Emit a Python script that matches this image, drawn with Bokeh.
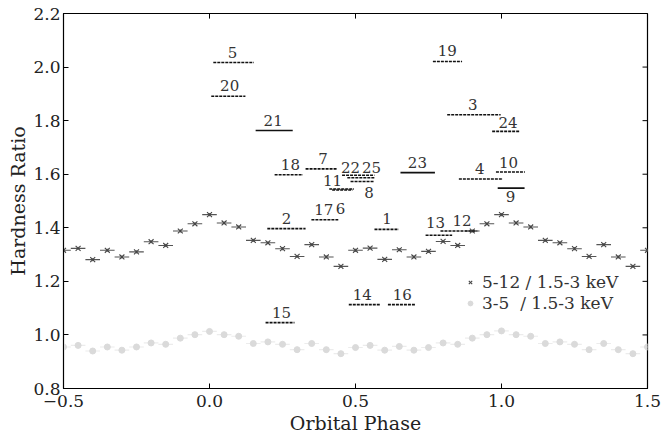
from bokeh.plotting import figure
from bokeh.models import Range1d, FixedTicker, Legend, LegendItem, ColumnDataSource
from bokeh.core.properties import value
from bokeh.embed import file_html
from bokeh.resources import INLINE

# ---------------- data ----------------
phase = [-0.50, -0.45, -0.40, -0.35, -0.30, -0.25, -0.20, -0.15, -0.10, -0.05,
         0.00, 0.05, 0.10, 0.15, 0.20, 0.25, 0.30, 0.35, 0.40, 0.45,
         0.50, 0.55, 0.60, 0.65, 0.70, 0.75, 0.80, 0.85, 0.90, 0.95,
         1.00, 1.05, 1.10, 1.15, 1.20, 1.25, 1.30, 1.35, 1.40, 1.45, 1.50]

hr_hard = [1.316, 1.323, 1.281, 1.316, 1.291, 1.310, 1.348, 1.334, 1.388, 1.415,
           1.449, 1.418, 1.403, 1.353, 1.344, 1.322, 1.293, 1.337, 1.291, 1.256,
           1.316, 1.324, 1.282, 1.318, 1.291, 1.312, 1.349, 1.334, 1.388, 1.415,
           1.449, 1.418, 1.403, 1.353, 1.344, 1.322, 1.293, 1.337, 1.291, 1.256,
           1.316]

hr_soft = [0.955, 0.961, 0.940, 0.955, 0.943, 0.955, 0.970, 0.965, 0.988, 1.001,
           1.013, 1.001, 0.995, 0.968, 0.974, 0.965, 0.945, 0.968, 0.945, 0.930,
           0.953, 0.961, 0.943, 0.957, 0.943, 0.953, 0.970, 0.965, 0.988, 1.001,
           1.015, 1.001, 0.995, 0.968, 0.974, 0.965, 0.945, 0.968, 0.945, 0.930,
           0.955]

bin_halfwidth = 0.025
hr_err = 0.006

seg_id = ["1", "2", "3", "4", "5", "6", "7", "8", "9", "10", "11", "12", "13",
          "14", "15", "16", "17", "18", "19", "20", "21", "22", "23", "24", "25"]
seg_start = [0.565, 0.198, 0.814, 0.854, 0.013, 0.420, 0.329, 0.483, 0.987, 0.981,
             0.410, 0.791, 0.740, 0.477, 0.192, 0.611, 0.349, 0.223, 0.765, 0.006,
             0.158, 0.454, 0.654, 0.968, 0.472]
seg_end = [0.648, 0.329, 0.997, 1.005, 0.152, 0.490, 0.436, 0.565, 1.079, 1.080,
           0.495, 0.917, 0.831, 0.586, 0.291, 0.705, 0.441, 0.320, 0.865, 0.123,
           0.285, 0.565, 0.772, 1.062, 0.565]
seg_ratio = [1.394, 1.397, 1.822, 1.582, 2.017, 1.541, 1.620, 1.573, 1.548, 1.608,
             1.545, 1.388, 1.372, 1.113, 1.046, 1.113, 1.430, 1.598, 2.021, 1.891,
             1.763, 1.596, 1.606, 1.760, 1.587]
seg_solid = ["9", "21", "23"]

label_phase = [0.608, 0.264, 0.902, 0.926, 0.079, 0.449, 0.389, 0.546, 1.031, 1.024,
               0.421, 0.865, 0.774, 0.523, 0.247, 0.660, 0.391, 0.277, 0.814, 0.069,
               0.218, 0.483, 0.712, 1.022, 0.555]
label_ratio = [1.434, 1.434, 1.860, 1.620, 2.054, 1.472, 1.658, 1.533, 1.515, 1.645,
               1.577, 1.428, 1.421, 1.150, 1.085, 1.150, 1.467, 1.637, 2.062, 1.931,
               1.801, 1.626, 1.645, 1.794, 1.626]

x_ticks = [-0.5, 0.0, 0.5, 1.0, 1.5]
x_tick_labels = ["\u22120.5", "0.0", "0.5", "1.0", "1.5"]
y_ticks = [0.8, 1.0, 1.2, 1.4, 1.6, 1.8, 2.0, 2.2]
y_tick_labels = ["0.8", "1.0", "1.2", "1.4", "1.6", "1.8", "2.0", "2.2"]

legend_hard = "5-12 / 1.5-3 keV"
legend_soft = "3-5  / 1.5-3 keV"

FONT = "DejaVu Serif"
X_MIN, X_MAX, Y_MIN, Y_MAX = -0.5, 1.5, 0.8, 2.2
TICK_DX = 0.017   # ~5 px inward tick length on the right edge
TICK_DY = 0.019   # ~5 px inward tick length on the top edge

# ---------------- figure ----------------
p = figure(width=663, height=439, x_range=Range1d(X_MIN, X_MAX), y_range=Range1d(Y_MIN, Y_MAX),
           output_backend="svg", toolbar_location=None,
           min_border_left=63, min_border_top=13, min_border_right=16, min_border_bottom=51)
p.xgrid.visible = False
p.ygrid.visible = False
p.outline_line_color = "black"
p.outline_line_width = 1.2
p.background_fill_color = "white"
p.border_fill_color = "white"

for ax in (p.xaxis[0], p.yaxis[0]):
    ax.major_tick_in = 5
    ax.major_tick_out = 0
    ax.minor_tick_in = 0
    ax.minor_tick_out = 0
    ax.major_label_text_font = FONT
    ax.major_label_text_font_size = "17px"
    ax.major_label_text_color = "#222222"
    ax.axis_label_text_font = FONT
    ax.axis_label_text_font_size = "19px"
    ax.axis_label_text_font_style = "normal"
    ax.axis_label_text_color = "#222222"
    ax.axis_line_color = "black"
    ax.major_tick_line_color = "black"

p.xaxis[0].ticker = FixedTicker(ticks=x_ticks)
p.yaxis[0].ticker = FixedTicker(ticks=y_ticks)
p.xaxis[0].major_label_overrides = {t: l for t, l in zip(x_ticks, x_tick_labels)}
p.yaxis[0].major_label_overrides = {t: l for t, l in zip(y_ticks, y_tick_labels)}
p.xaxis[0].axis_label = "Orbital Phase"
p.yaxis[0].axis_label = "Hardness Ratio"
p.xaxis[0].major_label_standoff = 6
p.yaxis[0].major_label_standoff = 3
p.xaxis[0].axis_label_standoff = 2
p.yaxis[0].axis_label_standoff = 1

# inward ticks on the top and right edges of the frame
p.segment(x0=x_ticks, x1=x_ticks, y0=[Y_MAX] * len(x_ticks), y1=[Y_MAX - TICK_DY] * len(x_ticks),
          line_color="black", line_width=1)
p.segment(x0=[X_MAX] * len(y_ticks), x1=[X_MAX - TICK_DX] * len(y_ticks), y0=y_ticks, y1=y_ticks,
          line_color="black", line_width=1)

# ---------------- series ----------------
src = ColumnDataSource(dict(
    x=phase, hard=hr_hard, soft=hr_soft,
    xl=[v - bin_halfwidth for v in phase], xr=[v + bin_halfwidth for v in phase],
    hlo=[v - hr_err for v in hr_hard], hhi=[v + hr_err for v in hr_hard],
))

# soft (3-5 keV) ratio: light grey
p.segment(x0="xl", x1="xr", y0="soft", y1="soft", source=src,
          line_color="#ececec", line_width=1.2)
r_soft = p.scatter(x="x", y="soft", source=src, marker="circle", size=6,
                   fill_color="#dadada", line_color="#dadada")

# hard (5-12 keV) ratio: x markers with error bars
p.segment(x0="xl", x1="xr", y0="hard", y1="hard", source=src,
          line_color="#555555", line_width=1.1)
p.segment(x0="x", x1="x", y0="hlo", y1="hhi", source=src,
          line_color="#666666", line_width=1.0)
r_hard = p.scatter(x="x", y="hard", source=src, marker="x", size=7,
                   line_color="#444444", line_width=1.1)

# ---------------- numbered segments ----------------
dash_idx = [i for i, s in enumerate(seg_id) if s not in seg_solid]
solid_idx = [i for i, s in enumerate(seg_id) if s in seg_solid]
p.segment(x0=[seg_start[i] for i in dash_idx], x1=[seg_end[i] for i in dash_idx],
          y0=[seg_ratio[i] for i in dash_idx], y1=[seg_ratio[i] for i in dash_idx],
          line_color="#111111", line_width=1.6, line_dash="3 1")
p.segment(x0=[seg_start[i] for i in solid_idx], x1=[seg_end[i] for i in solid_idx],
          y0=[seg_ratio[i] for i in solid_idx], y1=[seg_ratio[i] for i in solid_idx],
          line_color="#111111", line_width=1.6)

p.text(x=label_phase, y=label_ratio, text=seg_id, text_font=value(FONT),
       text_font_size="15px", text_color="#333333", text_align="center",
       text_baseline="middle")

# ---------------- legend ----------------
legend = Legend(items=[LegendItem(label=legend_hard, renderers=[r_hard]),
                       LegendItem(label=legend_soft, renderers=[r_soft])],
                location=(401, 75), border_line_color=None, background_fill_alpha=0,
                label_text_font=FONT, label_text_font_size="17px", label_text_color="#333333",
                glyph_width=12, glyph_height=20, label_height=20, spacing=1,
                padding=0, margin=0, label_standoff=6)
p.add_layout(legend, "center")

open("out.html", "w").write(file_html(p, INLINE))
